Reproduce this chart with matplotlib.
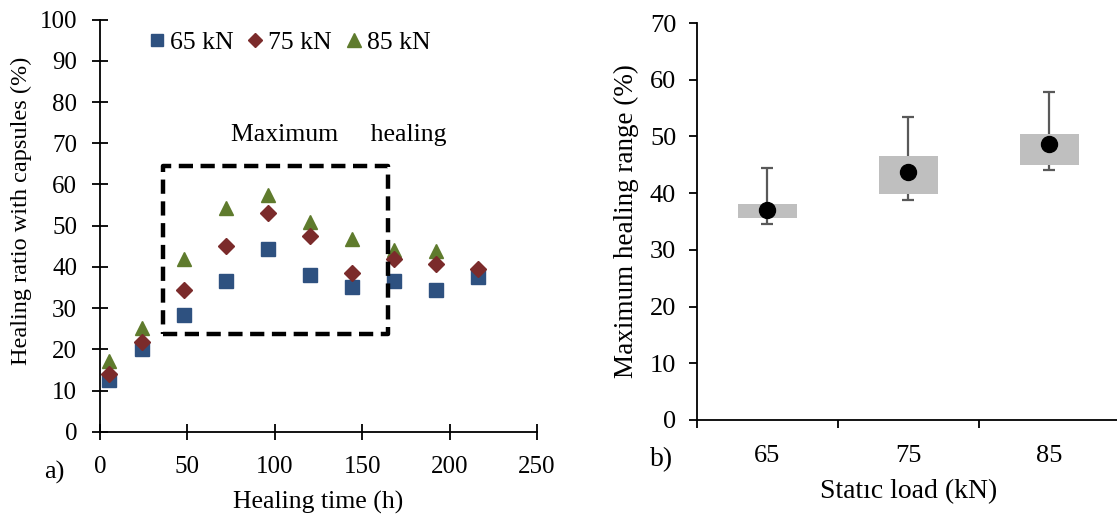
import matplotlib
matplotlib.use("Agg")
import matplotlib.pyplot as plt
from matplotlib.patches import Rectangle

plt.rcParams['font.family'] = ['Liberation Serif', 'DejaVu Serif']

# ---- data (left panel) ----
healing_time = [5, 24, 48, 72, 96, 120, 144, 168, 192, 216]
ratio_65 = [12.5, 20.0, 28.3, 36.6, 44.3, 38.1, 35.2, 36.5, 34.5, 37.6]
ratio_75 = [14.0, 21.7, 34.5, 45.0, 53.2, 47.6, 38.6, 42.0, 40.8, 39.5]
time_85 = [5, 24, 48, 72, 96, 120, 144, 168, 192]
ratio_85 = [17.1, 25.2, 41.8, 54.4, 57.4, 50.9, 46.7, 44.1, 43.9]
series_labels = ['65 kN', '75 kN', '85 kN']
left_xticks = [0, 50, 100, 150, 200, 250]
left_yticks = [0, 10, 20, 30, 40, 50, 60, 70, 80, 90, 100]
max_box_x = [36, 165]
max_box_y = [23.7, 64.4]

# ---- data (right panel) ----
loads = ['65', '75', '85']
box_low = [35.6, 39.9, 44.9]
box_high = [38.1, 46.6, 50.5]
whisker_low = [34.6, 38.8, 44.0]
whisker_high = [44.5, 53.4, 57.8]
mean_val = [37.1, 43.8, 48.7]
right_yticks = [0, 10, 20, 30, 40, 50, 60, 70]

c65, c75, c85 = '#2E5180', '#7B2B2B', '#5F7B2D'

fig = plt.figure(figsize=(11.17, 5.19), dpi=100)

# ================= left panel =================
ax1 = fig.add_axes([100/1117, 1-431.7/519, 437/1117, 412/519])
ax1.plot(healing_time, ratio_65, linestyle='none', marker='s', ms=10.3,
         color=c65, label=series_labels[0], zorder=3)
ax1.plot(healing_time, ratio_75, linestyle='none', marker='D', ms=8.0,
         color=c75, label=series_labels[1], zorder=4)
ax1.plot(time_85, ratio_85, linestyle='none', marker='^', ms=10.5,
         color=c85, label=series_labels[2], zorder=3)

ax1.set_xlim(0, 250)
ax1.set_ylim(0, 100)
ax1.set_xticks(left_xticks)
ax1.set_yticks(left_yticks)
for s in ['top', 'right']:
    ax1.spines[s].set_visible(False)
for s in ['left', 'bottom']:
    ax1.spines[s].set_linewidth(1.3)
ax1.tick_params(axis='both', direction='inout', length=11, width=1.3,
                labelsize=18)
ax1.tick_params(axis='y', pad=11)
ax1.tick_params(axis='x', pad=12)

rect = Rectangle((max_box_x[0], max_box_y[0]), max_box_x[1]-max_box_x[0],
                 max_box_y[1]-max_box_y[0], fill=False, edgecolor='black',
                 linewidth=3.2, linestyle=(0, (3.2, 1.7)), joinstyle='round',
                 zorder=5, clip_on=False)
ax1.add_patch(rect)
ax1.text(136.7, 72, 'Maximum     healing', ha='center', va='center',
         fontsize=18.5)

ax1.set_xlabel('Healing time (h)', fontsize=18.5, labelpad=9)
ax1.set_ylabel('Healing ratio with capsules (%)', fontsize=17.5)
ax1.yaxis.set_label_coords(-0.155, 0.536)

leg = ax1.legend(loc='center left', bbox_to_anchor=(0.11, 0.945), ncol=3,
                 frameon=False, handlelength=0.7, handletextpad=0.15,
                 columnspacing=0.5, borderpad=0, borderaxespad=0,
                 markerscale=0.9, fontsize=18.5)

fig.text(54/1117, 1-472/519, 'a)', fontsize=19, ha='center', va='center')

# ================= right panel =================
ax2 = fig.add_axes([697/1117, 1-420/519, 423/1117, 397/519])
pos = [1, 2, 3]
mid = [(l + h) / 2 for l, h in zip(whisker_low, whisker_high)]
ax2.errorbar(pos, mid,
             yerr=[[m - l for m, l in zip(mid, whisker_low)],
                   [h - m for m, h in zip(mid, whisker_high)]],
             fmt='none', ecolor='#595959', elinewidth=1.6, capsize=4.5,
             capthick=1.6, zorder=1)
ax2.bar(pos, [h - l for l, h in zip(box_low, box_high)], bottom=box_low,
        width=0.42, color='#BFBFBF', edgecolor='none', zorder=2)
ax2.plot(pos, mean_val, linestyle='none', marker='o', ms=11.5,
         color='black', zorder=3)

ax2.set_xlim(0.5, 3.5)
ax2.set_ylim(0, 70)
ax2.set_yticks(right_yticks)
ax2.set_xticks([0.5, 1.5, 2.5, 3.5])
ax2.set_xticklabels([])
ax2.set_xticks(pos, minor=True)
ax2.set_xticklabels(loads, minor=True)
for s in ['top', 'right']:
    ax2.spines[s].set_visible(False)
for s in ['left', 'bottom']:
    ax2.spines[s].set_linewidth(1.3)
ax2.tick_params(axis='y', direction='out', length=6, width=1.3,
                labelsize=19, pad=9)
ax2.tick_params(axis='x', which='major', direction='out', length=6, width=1.3)
ax2.tick_params(axis='x', which='minor', length=0, labelsize=19, pad=18)

ax2.set_xlabel('Statıc load (kN)', fontsize=20, labelpad=9)
ax2.set_ylabel('Maximum healing range (%)', fontsize=19.5, labelpad=8)

fig.text(662/1117, 1-460/519, 'b)', fontsize=20, ha='center', va='center')

fig.savefig('out.png', dpi=100)
